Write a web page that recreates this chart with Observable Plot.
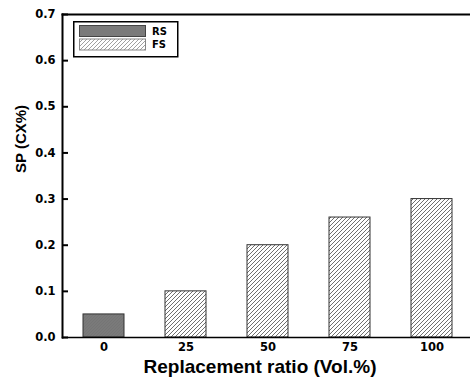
<!DOCTYPE html>
<html>
<head>
<meta charset="utf-8">
<script src="https://cdn.jsdelivr.net/npm/d3@7"></script>
<script src="https://cdn.jsdelivr.net/npm/@observablehq/plot@0.6"></script>
<style>
  html, body { margin: 0; padding: 0; background: #fff; }
  #wrap { position: relative; width: 470px; height: 382px; font-family: "Liberation Sans", Arial, sans-serif; }
  #legend { position: absolute; left: 73px; top: 21px; }
</style>
</head>
<body>
<div id="wrap"></div>
<script>
const categories = ["0", "25", "50", "75", "100"];
const values = [0.05, 0.10, 0.20, 0.26, 0.30];
const groups = ["RS", "FS", "FS", "FS", "FS"];
const yTicks = [0, 0.1, 0.2, 0.3, 0.4, 0.5, 0.6, 0.7];
const legendLabels = ["RS", "FS"];
const xLabel = "Replacement ratio (Vol.%)";
const yLabel = "SP (CX%)";

const data = categories.map((c, i) => ({cat: c, v: values[i], g: groups[i]}));
const NS = "http://www.w3.org/2000/svg";
const tickFont = "'DejaVu Sans', sans-serif";

function defs() {
  const g = document.createElementNS(NS, "defs");
  g.innerHTML = `
    <pattern id="hatch" patternUnits="userSpaceOnUse" width="4" height="4">
      <rect width="4" height="4" fill="#fff"/>
      <path d="M-1,1 L1,-1 M0,4 L4,0 M3,5 L5,3" stroke="#555" stroke-width="0.85"/>
    </pattern>
    <pattern id="solid" patternUnits="userSpaceOnUse" width="3" height="3">
      <rect width="3" height="3" fill="#7a7a7a"/>
      <path d="M0,3 L3,0" stroke="#727272" stroke-width="0.6"/>
    </pattern>`;
  return g;
}

const fillFor = g => g === "RS" ? "url(#solid)" : "url(#hatch)";

const chart = Plot.plot({
  width: 470,
  height: 382,
  marginLeft: 62,
  marginRight: 0,
  marginTop: 14,
  marginBottom: 45,
  style: {fontFamily: "'Liberation Sans', Arial, sans-serif", background: "#fff", color: "#000"},
  x: {domain: categories, range: [62, 473], paddingInner: 0.5, paddingOuter: 0.25},
  y: {domain: [0, 0.7]},
  marks: [
    defs,
    Plot.barY(data, {x: "cat", y: "v", fill: d => fillFor(d.g), stroke: "#333", strokeWidth: 1}),
    Plot.tickY(yTicks, {y: d => d, stroke: "#000", strokeWidth: 2, insetRight: 402}),
    Plot.axisX({tickSize: 0, tickPadding: 5, fontSize: 11.5, fontWeight: "bold", fontFamily: tickFont, label: null}),
    Plot.axisY({ticks: yTicks, tickSize: 0, tickPadding: 7, tickFormat: d3.format(".1f"), fontSize: 11.5, fontWeight: "bold", fontFamily: tickFont, label: null}),
    Plot.frame({anchor: "left", stroke: "#000", strokeWidth: 2}),
    Plot.frame({anchor: "top", stroke: "#000", strokeWidth: 2}),
    Plot.frame({anchor: "bottom", stroke: "#000", strokeWidth: 1.5}),
    Plot.text([xLabel], {frameAnchor: "bottom", dx: -6.5, dy: 35, fontSize: 19, fontWeight: "bold", fill: "#000"}),
    Plot.text([yLabel], {frameAnchor: "left", rotate: -90, dx: -41, dy: -3, fontSize: 15, fontWeight: "bold", fill: "#000"})
  ]
});

const wrap = document.getElementById("wrap");
wrap.appendChild(chart);

// legend overlay
const leg = document.createElementNS(NS, "svg");
leg.setAttribute("id", "legend");
leg.setAttribute("width", 106);
leg.setAttribute("height", 37);
leg.innerHTML = `
  <defs>
    <pattern id="hatchL" patternUnits="userSpaceOnUse" width="4" height="4">
      <rect width="4" height="4" fill="#fff"/>
      <path d="M-1,1 L1,-1 M0,4 L4,0 M3,5 L5,3" stroke="#888" stroke-width="0.8"/>
    </pattern>
    <pattern id="solidL" patternUnits="userSpaceOnUse" width="3" height="3">
      <rect width="3" height="3" fill="#7a7a7a"/>
    </pattern>
  </defs>
  <rect x="0.75" y="0.75" width="104" height="35" fill="#fff" stroke="#000" stroke-width="1.5"/>`;
legendLabels.forEach((lab, i) => {
  const y = 4.5 + i * 13.5;
  const r = document.createElementNS(NS, "rect");
  r.setAttribute("x", 6.5); r.setAttribute("y", y);
  r.setAttribute("width", 66); r.setAttribute("height", 11);
  r.setAttribute("fill", lab === "RS" ? "url(#solidL)" : "url(#hatchL)");
  r.setAttribute("stroke", lab === "RS" ? "#444" : "#888");
  r.setAttribute("stroke-width", 1);
  leg.appendChild(r);
  const t = document.createElementNS(NS, "text");
  t.setAttribute("x", 79); t.setAttribute("y", y + 5.5);
  t.setAttribute("dy", "0.35em");
  t.setAttribute("font-size", 10); t.setAttribute("font-weight", "bold");
  t.setAttribute("font-family", tickFont);
  t.textContent = lab;
  leg.appendChild(t);
});
wrap.appendChild(leg);
</script>
</body>
</html>
